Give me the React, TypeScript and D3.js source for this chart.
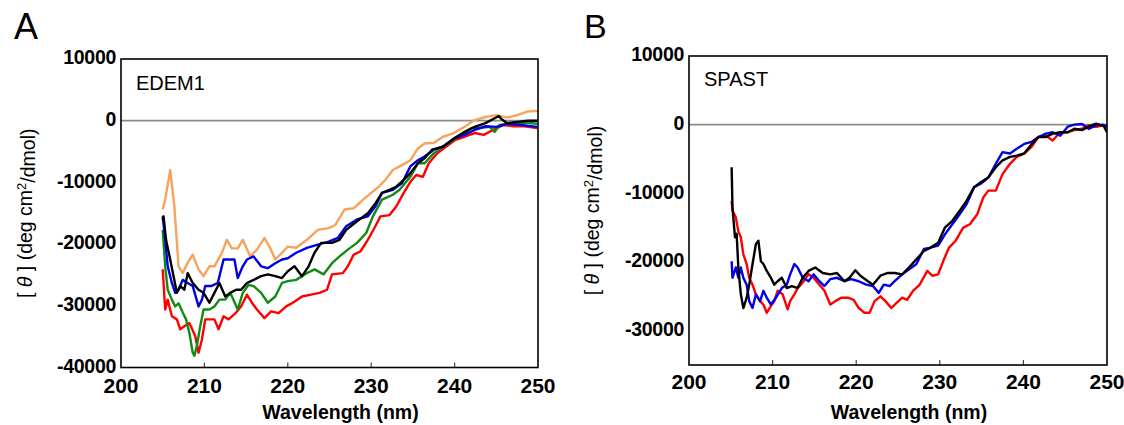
import React from "react";
import * as d3 from "d3";

// ---------- Data (wavelength nm, mean residue ellipticity) ----------
const edemOrange: [number, number][] = [[205.0,-14400],[205.3,-12800],[205.9,-8000],[206.4,-13900],[206.9,-23600],[207.4,-24700],[208.0,-23000],[208.6,-21700],[209.3,-24100],[209.9,-25200],[210.6,-23600],[211.2,-23600],[212.1,-21400],[212.7,-19300],[213.3,-20700],[214.0,-20700],[214.6,-19300],[215.5,-22000],[216.3,-20900],[217.2,-19000],[217.8,-20400],[218.5,-22500],[219.3,-21400],[220.0,-20400],[221.0,-20600],[222.3,-19300],[223.6,-17700],[224.9,-17400],[225.7,-16900],[226.8,-14400],[227.9,-14200],[229.2,-12600],[230.0,-11700],[230.9,-10700],[231.7,-9600],[232.6,-8000],[233.7,-7200],[234.7,-6400],[235.6,-4500],[236.4,-3700],[237.5,-3600],[238.6,-2600],[239.9,-2000],[241.2,-1000],[242.4,100],[243.7,600],[245.0,900],[246.3,500],[247.5,900],[248.8,1500],[249.7,1600],[250.0,1500]];
const edemBlue: [number, number][] = [[205.0,-15500],[205.3,-19300],[205.6,-23600],[206.1,-26300],[206.5,-27900],[206.9,-27400],[207.4,-25800],[208.0,-26300],[208.6,-26800],[209.3,-30100],[209.7,-29000],[210.1,-26800],[210.8,-26800],[211.6,-26300],[212.3,-22500],[212.9,-22500],[213.6,-22500],[214.0,-25500],[214.6,-23600],[215.1,-22500],[215.9,-22000],[216.8,-23600],[217.6,-23900],[218.5,-23100],[219.3,-22500],[220.0,-22300],[221.0,-21400],[222.3,-20600],[223.6,-20100],[224.9,-19600],[226.0,-19000],[227.0,-17100],[228.3,-16000],[229.6,-15500],[230.5,-13900],[231.3,-11700],[232.6,-11200],[233.7,-10100],[234.7,-7400],[235.6,-6400],[236.4,-5800],[237.5,-4700],[238.6,-4200],[239.9,-2900],[241.2,-2300],[242.4,-1500],[243.7,-900],[245.0,-1000],[246.3,-500],[248.0,-700],[249.9,-1000]];
const edemBlack: [number, number][] = [[205.0,-16100],[205.1,-15500],[205.4,-19300],[205.9,-22500],[206.3,-25200],[206.7,-27900],[207.1,-26800],[207.6,-27400],[208.0,-24700],[208.6,-26300],[209.3,-27400],[209.9,-27900],[210.6,-29500],[211.2,-27900],[211.8,-26300],[212.5,-28500],[213.1,-27900],[213.8,-27400],[214.4,-27400],[215.1,-26300],[215.9,-25800],[216.8,-25200],[217.6,-24900],[218.5,-25200],[219.3,-25500],[220.0,-24400],[220.8,-23600],[221.7,-25200],[222.5,-23600],[223.2,-21400],[224.0,-19800],[225.3,-19800],[226.2,-19300],[227.0,-17700],[228.3,-16300],[229.6,-15000],[230.5,-13400],[231.3,-11700],[232.2,-11200],[233.0,-10700],[233.9,-9600],[234.7,-8500],[235.6,-6900],[236.4,-6100],[237.3,-4700],[238.6,-4200],[239.9,-2900],[241.2,-1800],[242.4,-1000],[243.7,-400],[244.8,400],[245.3,750],[245.6,300],[246.3,-400],[247.5,-200],[248.8,0],[249.9,0]];
const edemGreen: [number, number][] = [[205.0,-17700],[205.3,-23600],[205.6,-27400],[206.1,-29000],[206.5,-30100],[206.9,-29600],[207.4,-31100],[207.8,-32200],[208.2,-34400],[208.6,-37600],[208.8,-38100],[209.1,-36500],[209.5,-33300],[209.9,-30600],[210.6,-30600],[211.2,-30100],[211.8,-29000],[212.5,-29000],[213.1,-27900],[214.0,-30600],[214.6,-27900],[215.3,-26600],[215.9,-26800],[216.8,-27900],[217.6,-29500],[218.5,-28500],[219.3,-26300],[220.0,-26000],[221.0,-25800],[222.3,-24700],[223.2,-24100],[224.3,-24900],[225.3,-23100],[226.2,-22000],[227.2,-20900],[228.3,-19800],[229.4,-18200],[230.2,-15500],[231.3,-12800],[232.6,-12000],[233.4,-11200],[234.7,-9100],[235.6,-6900],[236.4,-6900],[237.5,-5300],[238.6,-4200],[239.9,-3100],[241.2,-2000],[242.0,-1200],[243.0,-1200],[244.2,-1000],[244.8,-1800],[245.4,-700],[246.7,-400],[248.4,-300],[249.9,-500]];
const edemRed: [number, number][] = [[205.0,-24100],[205.3,-30600],[205.6,-29000],[206.1,-31700],[206.7,-32200],[207.1,-33800],[207.6,-33300],[208.2,-32800],[208.9,-34900],[209.3,-37600],[209.7,-35500],[210.1,-32200],[210.8,-32200],[211.2,-32200],[211.7,-33800],[212.3,-31700],[212.9,-32200],[213.8,-31100],[214.4,-30100],[215.1,-28200],[215.7,-29500],[216.3,-30600],[217.2,-32000],[218.0,-30900],[218.9,-31200],[219.8,-30100],[220.6,-29500],[221.7,-28500],[222.8,-28200],[223.8,-27900],[224.7,-27400],[225.3,-24900],[226.6,-24700],[227.2,-23600],[227.9,-21700],[228.7,-21200],[229.6,-19300],[230.5,-17100],[231.1,-15500],[232.2,-15300],[233.0,-13900],[233.9,-11700],[234.7,-9900],[235.4,-8800],[236.2,-9100],[236.9,-6900],[237.9,-5300],[239.0,-4200],[240.1,-3100],[241.2,-2600],[242.4,-2000],[243.5,-2300],[244.6,-1500],[245.9,-700],[247.1,-900],[248.4,-900],[249.9,-1200]];

const spastBlack: [number, number][] = [[205.1,-6200],[205.2,-12000],[205.5,-16400],[205.7,-15900],[205.9,-20800],[206.2,-24700],[206.5,-26700],[206.9,-25200],[207.2,-23300],[207.6,-20300],[208.0,-17400],[208.3,-16900],[208.6,-19900],[208.9,-20300],[209.3,-21300],[209.8,-22300],[210.2,-23300],[210.6,-22800],[211.1,-22300],[211.7,-23800],[212.3,-23500],[213.0,-23800],[213.6,-22300],[214.3,-21300],[215.1,-20800],[216.0,-21600],[216.9,-21800],[217.7,-21600],[218.6,-22800],[219.2,-22300],[219.9,-21200],[220.5,-22000],[221.4,-22800],[222.0,-23300],[222.9,-22000],[223.8,-21600],[224.6,-21600],[225.5,-21800],[226.3,-20800],[227.2,-19600],[228.1,-18400],[228.9,-17900],[229.8,-17200],[230.6,-15000],[231.5,-14000],[232.4,-12500],[233.2,-11100],[234.1,-9100],[234.9,-8400],[235.8,-7700],[236.7,-6200],[237.5,-5200],[238.4,-4700],[239.2,-4500],[240.1,-4200],[241.0,-2800],[241.8,-1800],[242.7,-1800],[243.5,-1300],[244.4,-1100],[245.3,-1100],[246.1,-600],[247.0,-800],[247.8,-300],[248.7,150],[249.6,-200],[250.0,-1100]];
const spastRed: [number, number][] = [[205.1,-11100],[205.2,-12500],[205.6,-13500],[205.9,-15500],[206.2,-16400],[206.5,-18900],[206.9,-20300],[207.2,-22300],[207.6,-23300],[208.0,-24700],[208.5,-25700],[208.9,-26200],[209.3,-27400],[209.8,-26400],[210.2,-25700],[210.6,-24200],[211.2,-24700],[211.8,-26900],[212.1,-25700],[212.6,-24700],[213.0,-23800],[213.6,-23000],[214.3,-21800],[214.9,-22300],[215.6,-23300],[216.2,-24200],[216.9,-26200],[217.5,-25700],[218.2,-25200],[219.0,-25200],[219.7,-25500],[220.3,-26700],[221.0,-27400],[221.6,-27400],[222.2,-25700],[222.9,-25000],[223.5,-25700],[224.2,-26700],[224.8,-26000],[225.5,-25200],[226.1,-25500],[226.8,-24200],[227.6,-23300],[228.5,-21300],[229.1,-22000],[229.8,-21800],[230.4,-19900],[231.1,-17900],[231.9,-16900],[232.8,-15000],[233.6,-14500],[234.5,-13000],[235.2,-10600],[235.8,-9600],[236.7,-9600],[237.5,-7200],[238.4,-5700],[239.2,-4700],[240.1,-4200],[241.0,-3200],[241.8,-1800],[242.7,-1600],[243.5,-2300],[244.4,-1100],[245.3,-1100],[246.1,-800],[247.0,-600],[247.8,-100],[248.7,-300],[249.6,-100],[250.0,-300]];
const spastBlue: [number, number][] = [[205.1,-19900],[205.2,-22300],[205.6,-20800],[205.9,-22300],[206.2,-20800],[206.5,-22300],[206.9,-23300],[207.2,-25700],[207.6,-26700],[208.0,-24700],[208.5,-25700],[208.9,-24200],[209.3,-25200],[209.8,-26200],[210.4,-25200],[211.1,-23800],[211.7,-23300],[212.1,-21800],[212.6,-20300],[213.0,-20800],[213.6,-22300],[214.3,-22800],[214.9,-21800],[215.6,-22800],[216.2,-23500],[216.9,-22500],[217.7,-22300],[218.6,-22800],[219.4,-22500],[220.3,-22800],[221.2,-23300],[222.0,-23500],[222.7,-24500],[223.3,-23300],[224.0,-23500],[224.6,-22800],[225.5,-21800],[226.3,-21100],[227.2,-20300],[228.1,-18100],[228.9,-17900],[229.8,-17600],[230.6,-16000],[231.5,-14500],[232.4,-13000],[233.2,-11600],[234.1,-9100],[234.9,-8600],[235.8,-7700],[236.7,-5700],[237.5,-4000],[238.4,-4200],[239.2,-3500],[240.1,-2800],[241.0,-2500],[241.8,-1800],[242.7,-1300],[243.5,-1100],[244.4,-1600],[245.3,-300],[246.1,0],[247.0,100],[247.8,-600],[248.7,-100],[249.6,0],[250.0,-300]];

const xTicks = [200, 210, 220, 230, 240, 250];
const yTicksA = [10000, 0, -10000, -20000, -30000, -40000];
const yTicksB = [10000, 0, -10000, -20000, -30000];

const C = {
  orange: "#f7a35c",
  blue: "#0000e6",
  green: "#138a13",
  red: "#ff0000",
  black: "#000000",
};

type Series = { data: [number, number][]; color: string };
type Panel = {
  letter: string;
  name: string;
  left: number; right: number; top: number; bottom: number;
  yDomain: [number, number];
  yTicks: number[];
  series: Series[];
  letterX: number; letterY: number; letterSize: number;
  nameX: number; nameY: number;
  yTitleX: number;
  xLabelY: number;
};

const panels: Panel[] = [
  {
    letter: "A", name: "EDEM1",
    left: 121, right: 538, top: 59, bottom: 367.5,
    yDomain: [-40000, 10000], yTicks: yTicksA,
    series: [
      { data: edemOrange, color: C.orange },
      { data: edemRed, color: C.red },
      { data: edemGreen, color: C.green },
      { data: edemBlue, color: C.blue },
      { data: edemBlack, color: C.black },
    ],
    letterX: 14, letterY: 39, letterSize: 36,
    nameX: 136, nameY: 90,
    yTitleX: 32,
    xLabelY: 393,
  },
  {
    letter: "B", name: "SPAST",
    left: 689, right: 1107, top: 56, bottom: 365,
    yDomain: [-35000, 10000], yTicks: yTicksB,
    series: [
      { data: spastRed, color: C.red },
      { data: spastBlue, color: C.blue },
      { data: spastBlack, color: C.black },
    ],
    letterX: 584, letterY: 38, letterSize: 34,
    nameX: 704, nameY: 86,
    yTitleX: 599,
    xLabelY: 389,
  },
];

const FONT = "'Liberation Sans', Arial, Helvetica, sans-serif";

function PanelView({ p }: { p: Panel }) {
  const x = d3.scaleLinear().domain([200, 250]).range([p.left, p.right]);
  const y = d3.scaleLinear().domain(p.yDomain).range([p.bottom, p.top]);
  const line = d3.line<[number, number]>().x((d) => x(d[0])).y((d) => y(d[1]));
  const cx = (p.left + p.right) / 2;
  const cy = (p.top + p.bottom) / 2;
  return (
    <g>
      <text x={p.letterX} y={p.letterY} fontFamily={FONT} fontSize={p.letterSize}>{p.letter}</text>
      <line x1={p.left} x2={p.right} y1={y(0)} y2={y(0)} stroke="#8c8c8c" strokeWidth={1.8} />
      <defs>
        <clipPath id={`clip-${p.letter}`}>
          <rect x={p.left} y={p.top} width={p.right - p.left} height={p.bottom - p.top} />
        </clipPath>
      </defs>
      <g clipPath={`url(#clip-${p.letter})`}>
        {p.series.map((s, i) => (
          <path key={i} d={line(s.data) || ""} fill="none" stroke={s.color} strokeWidth={2.4} strokeLinejoin="round" />
        ))}
      </g>
      {xTicks.slice(1, -1).map((t) => (
        <line key={t} x1={x(t)} x2={x(t)} y1={p.bottom} y2={p.bottom - 5} stroke="#444" strokeWidth={1.2} />
      ))}
      <rect x={p.left} y={p.top} width={p.right - p.left} height={p.bottom - p.top} fill="none" stroke="#000" strokeWidth={1.6} />
      {xTicks.map((t) => (
        <text key={t} x={x(t)} y={p.xLabelY} textAnchor="middle" fontFamily={FONT} fontWeight="bold" fontSize={21}>{t}</text>
      ))}
      {p.yTicks.map((t) => (
        <text key={t} x={p.left - 5} y={y(t) - 1.5} dy="0.35em" textAnchor="end" fontFamily={FONT} fontWeight="bold" fontSize={19.5} letterSpacing={-0.3}>{t}</text>
      ))}
      <text x={cx + 11} y={419} textAnchor="middle" fontFamily={FONT} fontWeight="bold" fontSize={19.5}>Wavelength (nm)</text>
      <text x={p.nameX} y={p.nameY} fontFamily={FONT} fontSize={20}>{p.name}</text>
      <text transform={`translate(${p.yTitleX},${cy}) rotate(-90)`} textAnchor="middle" fontFamily={FONT} fontSize={19.5}>
        <tspan>[ </tspan>
        <tspan fontStyle="italic">θ</tspan>
        <tspan> ] (deg cm</tspan>
        <tspan dy="-0.45em" fontSize={13}>2</tspan>
        <tspan dy="0.45em">/dmol)</tspan>
      </text>
    </g>
  );
}

export default function App() {
  return (
    <svg width={1124} height={425} style={{ position: "absolute", left: 0, top: 0, background: "#fff" }}>
      <rect width={1124} height={425} fill="#fff" />
      {panels.map((p) => (
        <PanelView key={p.letter} p={p} />
      ))}
    </svg>
  );
}
